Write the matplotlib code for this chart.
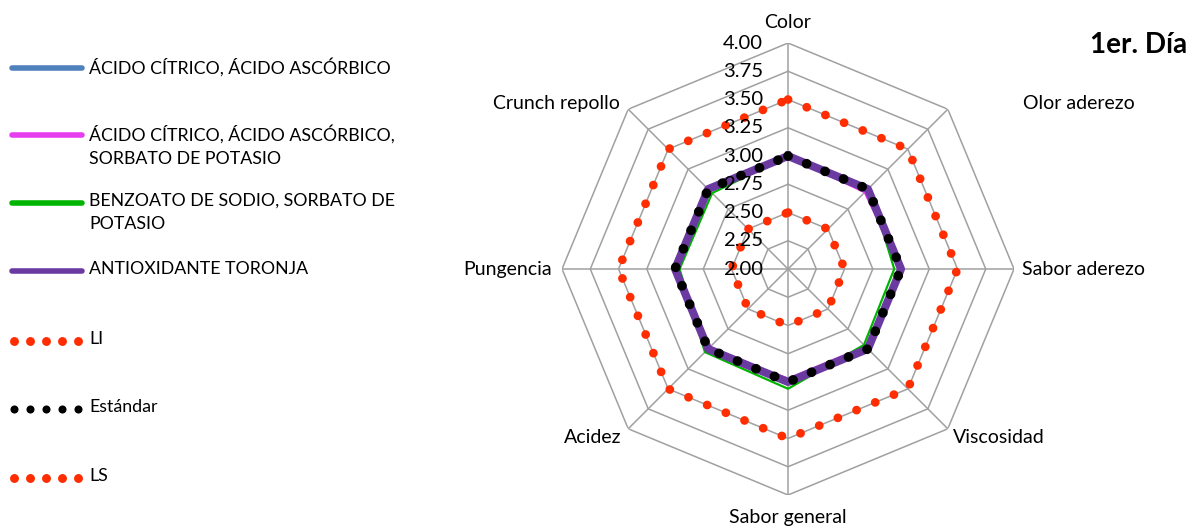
import matplotlib.pyplot as plt
import numpy as np

plt.rcParams['font.family'] = ['Lato', 'DejaVu Sans']

# atributos sensoriales (sentido horario desde arriba)
atributos = ['Color', 'Olor aderezo', 'Sabor aderezo', 'Viscosidad',
             'Sabor general', 'Acidez', 'Pungencia', 'Crunch repollo']

acido_citrico = [3.00, 3.00, 3.00, 3.00, 3.00, 3.00, 3.00, 3.00]
acido_citrico_sorbato = [3.00, 2.96, 3.00, 2.97, 2.97, 3.00, 3.00, 3.00]
benzoato_sorbato = [3.00, 3.02, 2.94, 2.95, 3.06, 3.04, 2.96, 2.95]
antioxidante_toronja = [3.00, 3.00, 3.00, 3.00, 3.00, 3.00, 3.00, 3.00]
li = [2.5] * 8
estandar = [3.0] * 8
ls = [3.5] * 8

niveles = [2.25, 2.50, 2.75, 3.00, 3.25, 3.50, 3.75, 4.00]
etiquetas_niveles = ['2.00', '2.25', '2.50', '2.75', '3.00', '3.25', '3.50', '3.75', '4.00']

series = [
    ('ÁCIDO CÍTRICO, ÁCIDO ASCÓRBICO', acido_citrico, dict(color='#4F81BD', lw=1.6)),
    ('ÁCIDO CÍTRICO, ÁCIDO ASCÓRBICO,\nSORBATO DE POTASIO', acido_citrico_sorbato, dict(color='#E83CF0', lw=1.6)),
    ('BENZOATO DE SODIO, SORBATO DE\nPOTASIO', benzoato_sorbato, dict(color='#00B400', lw=1.6)),
    ('ANTIOXIDANTE TORONJA', antioxidante_toronja, dict(color='#6A3AA0', lw=5.8)),
    ('LI', li, dict(color='#FF2D00', lw=6.3, ls=(0, (0.01, 2.3)), dash_capstyle='round')),
    ('Estándar', estandar, dict(color='black', lw=7.0, ls=(0, (0.01, 2.05)), dash_capstyle='round')),
    ('LS', ls, dict(color='#FF2D00', lw=6.3, ls=(0, (0.01, 2.3)), dash_capstyle='round')),
]

fig = plt.figure(figsize=(11.91, 5.27), dpi=100)
ax = fig.add_axes([0.4719, 0.0607, 0.3795, 0.8577], projection='polar')
ax.set_theta_zero_location('N')
ax.set_theta_direction(-1)
ax.set_ylim(2, 4)
ax.grid(False)
ax.set_xticks([])
ax.set_yticks([])
ax.spines['polar'].set_visible(False)

theta = np.linspace(0, 2 * np.pi, len(atributos), endpoint=False)
theta_c = np.append(theta, theta[0])

# rejilla octogonal
for nv in niveles:
    ax.plot(theta_c, [nv] * len(theta_c), color='#A0A0A0', lw=1.1, zorder=1)
for t in theta:
    ax.plot([t, t], [2, 4], color='#A0A0A0', lw=1.1, zorder=1)

for nombre, valores, estilo in series:
    v = np.append(valores, valores[0])
    ax.plot(theta_c, v, zorder=3, **estilo)

# etiquetas de los ejes
offsets = [(0, 21, 'center'), (75, 6, 'left'), (8, 0, 'left'), (5, -9, 'left'),
           (0, -23, 'center'), (-7, -9, 'right'), (-10, 0, 'right'), (-8, 6, 'right')]
for t, nombre, (dx, dy, ha) in zip(theta, atributos, offsets):
    ax.annotate(nombre, xy=(t, 4), xytext=(dx, dy), textcoords='offset pixels',
                ha=ha, va='center', fontsize=14, annotation_clip=False)

# valores del eje radial
for nv, txt in zip([2.0] + niveles, etiquetas_niveles):
    ax.annotate(txt, xy=(0, nv), xytext=(-25, 0), textcoords='offset pixels',
                ha='right', va='center', fontsize=14.6, annotation_clip=False, zorder=5)

fig.text(0.9966, 0.9146, '1er. Día', ha='right', va='center', fontsize=20, fontweight='bold')

# leyenda a la izquierda
lax = fig.add_axes([0, 0, 0.4, 1])
lax.set_xlim(0, 476.4)
lax.set_ylim(527, 0)
lax.axis('off')
pos_y = [68, 135, 203, 271, 341, 409, 478]
for (nombre, valores, estilo), y in zip(series, pos_y):
    if nombre in ('LI', 'Estándar', 'LS'):
        xs = np.linspace(14, 78, 5)
        lax.plot(xs, [y] * 5, 'o', color=estilo['color'], ms=6.4 if nombre != 'Estándar' else 5.8, mew=0)
    else:
        lax.plot([12, 82], [y, y], color=estilo['color'], lw=4, solid_capstyle='round')
    lax.text(89, y - 10, nombre, ha='left', va='top', fontsize=12.8, linespacing=1.55)

fig.savefig('out.png', dpi=100)
